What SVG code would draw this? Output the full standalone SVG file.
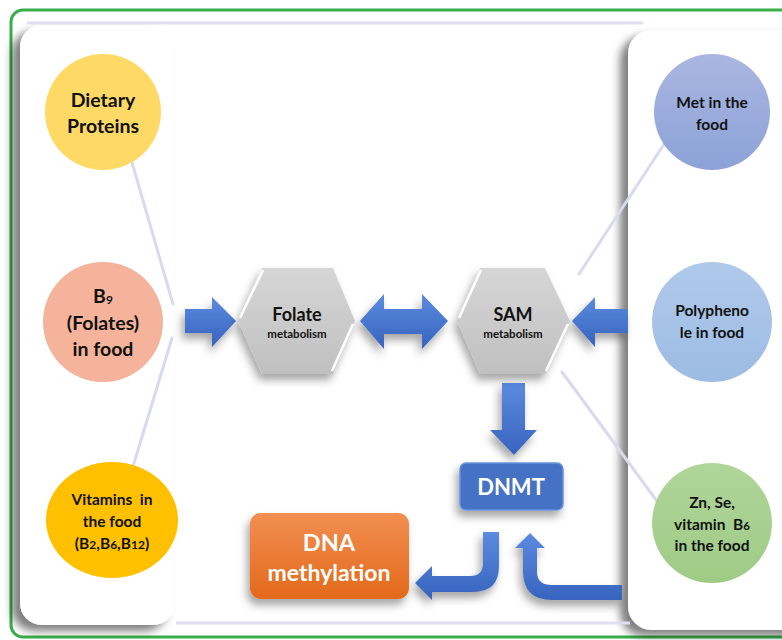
<svg xmlns="http://www.w3.org/2000/svg" width="782" height="640" viewBox="0 0 782 640">
<defs>
<style>
.t{font-family:Lato,"Open Sans","Liberation Sans",sans-serif;font-weight:bold;text-anchor:middle;fill:#111}
.w{fill:#fff}
.ln{stroke:#D8DBF0;stroke-width:3;stroke-linecap:round;fill:none}
.arr{fill:url(#blue);filter:url(#sh)}
.hex{fill:url(#gray);filter:url(#sh)}
.hl{stroke:#fff;stroke-width:2.5;fill:none}
</style>
<linearGradient id="blue" x1="0" y1="0" x2="0" y2="1"><stop offset="0" stop-color="#5B8BE0"/><stop offset="1" stop-color="#3763BD"/></linearGradient>
<linearGradient id="gray" x1="0" y1="0" x2="0" y2="1"><stop offset="0" stop-color="#D6D6D6"/><stop offset="1" stop-color="#C0C0C0"/></linearGradient>
<linearGradient id="orange" x1="0" y1="0" x2="0" y2="1"><stop offset="0" stop-color="#F28F52"/><stop offset="1" stop-color="#E3691A"/></linearGradient>
<linearGradient id="met" x1="0" y1="0" x2="0" y2="1"><stop offset="0" stop-color="#AAB6E0"/><stop offset="1" stop-color="#8CA2D8"/></linearGradient>
<linearGradient id="poly" x1="0" y1="0" x2="0" y2="1"><stop offset="0" stop-color="#AFC9EA"/><stop offset="1" stop-color="#9DBCE4"/></linearGradient>
<linearGradient id="zn" x1="0" y1="0" x2="0" y2="1"><stop offset="0" stop-color="#B0D59A"/><stop offset="1" stop-color="#9FCB86"/></linearGradient>
<filter id="sh" x="-30%" y="-30%" width="160%" height="170%"><feDropShadow dx="-3" dy="6" stdDeviation="4" flood-color="#000" flood-opacity="0.35"/></filter>
<filter id="psh" x="-20%" y="-10%" width="140%" height="120%"><feDropShadow dx="-8" dy="6" stdDeviation="4" flood-color="#000" flood-opacity="0.5"/></filter>
</defs>
<rect width="782" height="640" fill="#fff"/>
<rect x="11" y="10" width="800" height="627" rx="12" fill="none" stroke="#3AAE4A" stroke-width="3"/>
<g id="panels">
<rect x="20" y="25" width="155" height="600" rx="22" fill="#fff" filter="url(#psh)"/>
<rect x="628" y="30" width="200" height="600" rx="24" fill="#fff" filter="url(#psh)"/>
<line x1="27" y1="23" x2="643" y2="23" stroke="#DDE0F3" stroke-width="3"/>
<line x1="176" y1="623" x2="630" y2="623" stroke="#DDE0F3" stroke-width="3"/>
</g>
<g id="connectors">
<line class="ln" x1="129" y1="152" x2="173" y2="304"/>
<line class="ln" x1="128" y1="483" x2="172" y2="338"/>
<line class="ln" x1="672" y1="132" x2="579" y2="274"/>
<line class="ln" x1="562" y1="372" x2="662" y2="508"/>
<path class="arr" d="M185,309 L212,309 L212,297 L236,321 L212,347 L212,333 L185,333 Z"/>
<path class="arr" d="M360,321 L384,294 L384,309 L422,309 L422,294 L448,321 L422,349 L422,334 L384,334 L384,349 Z"/>
<path class="arr" d="M572,321 L595,297 L595,309 L628,309 L628,333 L595,333 L595,347 Z"/>
<path class="arr" d="M502,383 L525,383 L525,430 L537,430 L514,455 L490,430 L502,430 Z"/>
<path class="arr" d="M483,532 L499,532 L499,566 Q499,592 473,592 L432,592 L432,600 L415,583 L432,566 L432,576 L470,576 Q483,576 483,563 Z"/>
<path class="arr" d="M622,585 L622,600 L552,600 Q523,600 523,571 L523,548 L515,548 L530,533 L545,548 L537,548 L537,572 Q537,585 552,585 Z"/>
</g>
<g id="dietary">
<circle cx="103" cy="112" r="58" fill="#FFD966"/>
<text class="t" x="103" y="107" font-size="19.5">Dietary</text>
<text class="t" x="103" y="133" font-size="19.5">Proteins</text>
</g>
<g id="b9">
<circle cx="103" cy="322" r="60" fill="#F4B39A"/>
<text class="t" x="103" y="303" font-size="19.5">B<tspan font-size="12" dy="1">9</tspan></text>
<text class="t" x="103" y="330" font-size="19.5">(Folates)</text>
<text class="t" x="103" y="356" font-size="19.5">in food</text>
</g>
<g id="vitamins">
<ellipse cx="112" cy="520" rx="66" ry="58" fill="#FFC000"/>
<text class="t" x="112" y="505" font-size="15.5" xml:space="preserve">Vitamins  in</text>
<text class="t" x="112" y="527" font-size="15.5">the food</text>
<text class="t" x="112" y="549" font-size="15.5">(B<tspan font-size="12">2</tspan>,B<tspan font-size="12">6</tspan>,B<tspan font-size="12">12</tspan>)</text>
</g>
<g id="met">
<circle cx="712" cy="112" r="58" fill="url(#met)"/>
<text class="t" x="712" y="108" font-size="15.5">Met in the</text>
<text class="t" x="712" y="130" font-size="15.5">food</text>
</g>
<g id="poly">
<circle cx="712" cy="322" r="60" fill="url(#poly)"/>
<text class="t" x="712" y="316" font-size="15.5">Polypheno</text>
<text class="t" x="712" y="338" font-size="15.5">le in food</text>
</g>
<g id="zn">
<circle cx="712" cy="523" r="60" fill="url(#zn)"/>
<text class="t" x="712" y="508" font-size="15.5">Zn, Se,</text>
<text class="t" x="712" y="530" font-size="15.5" xml:space="preserve">vitamin  B<tspan font-size="11.5">6</tspan></text>
<text class="t" x="712" y="551" font-size="15.5">in the food</text>
</g>
<g id="folate">
<path class="hex" d="M262,268 L333,268 L355,321 L333,374 L262,374 L238,321 Z"/>
<path class="hl" d="M240,318 L263,270"/>
<path class="hl" d="M353,324 L332,371"/>
<text class="t" x="297" y="321" font-size="18">Folate</text>
<text class="t" x="297" y="338" font-size="11.5">metabolism</text>
</g>
<g id="sam">
<path class="hex" d="M480,268 L545,268 L570,321 L545,374 L480,374 L457,321 Z"/>
<path class="hl" d="M459,318 L481,270"/>
<path class="hl" d="M568,324 L546,371"/>
<text class="t" x="513" y="321" font-size="18">SAM</text>
<text class="t" x="513" y="338" font-size="11.5">metabolism</text>
</g>
<g id="dnmt">
<rect x="460" y="463" width="103" height="47" rx="6" fill="#4472C4" stroke="#6A93DA" stroke-width="1.5" filter="url(#sh)"/>
<text class="t w" x="511" y="495" font-size="22">DNMT</text>
</g>
<g id="dna">
<rect x="250" y="513" width="159" height="86" rx="11" fill="url(#orange)" filter="url(#sh)"/>
<text class="t w" x="329" y="551" font-size="23.5">DNA</text>
<text class="t w" x="329" y="581" font-size="23">methylation</text>
</g>
</svg>
